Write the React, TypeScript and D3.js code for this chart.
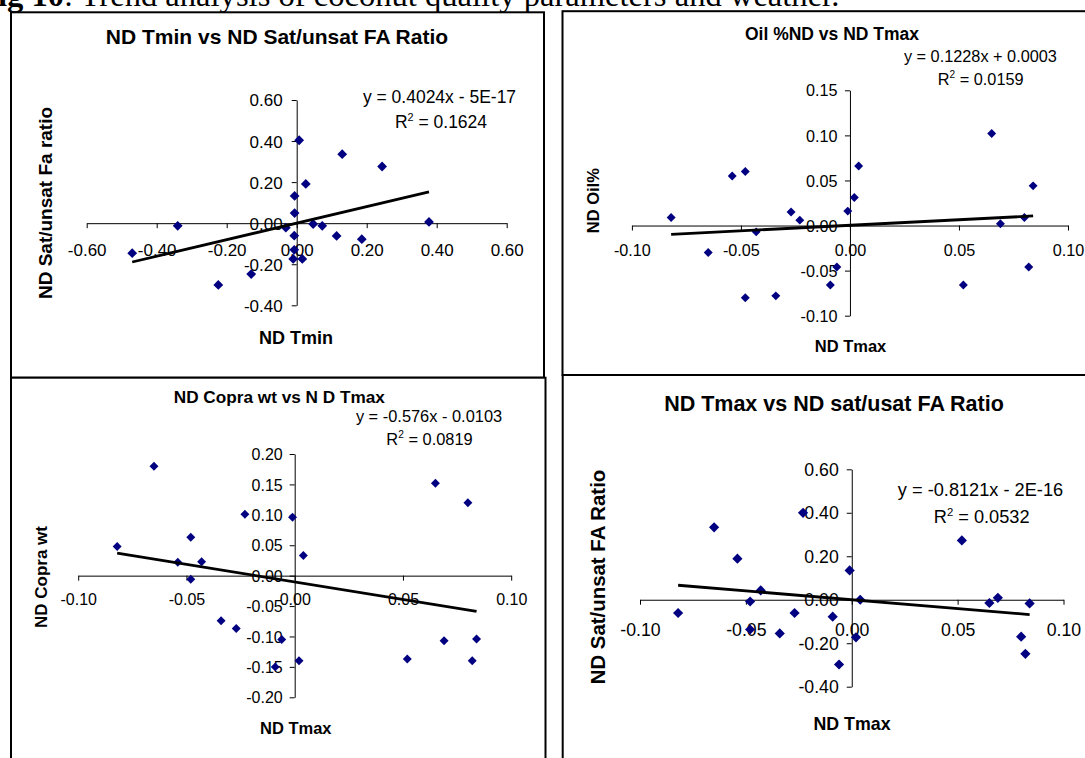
import { useEffect, useRef } from "react";
import * as d3 from "d3";

// panel 1: ND Tmin vs ND sat/unsat FA ratio
const ndTmin = [-0.47, -0.34, -0.224, -0.13, -0.031, -0.007, -0.006, -0.006, 0.007, 0.026, -0.007, -0.01, 0.016, 0.047, 0.073, 0.114, 0.13, 0.186, 0.244, 0.378];
const ndSatByTmin = [-0.146, -0.013, -0.301, -0.248, -0.022, -0.061, 0.049, 0.133, 0.404, 0.191, -0.13, -0.174, -0.174, -0.004, -0.013, -0.062, 0.336, -0.078, 0.276, 0.006];

// panels 2-4 share the same ND Tmax values
const ndTmax = [-0.082, -0.065, -0.054, -0.048, -0.048, -0.043, -0.034, -0.027, -0.023, -0.009, -0.006, -0.001, 0.002, 0.004, 0.052, 0.065, 0.069, 0.08, 0.082, 0.084];
const ndOil = [0.009, -0.03, 0.055, 0.06, -0.08, -0.007, -0.078, 0.015, 0.006, -0.066, -0.046, 0.016, 0.031, 0.066, -0.066, 0.102, 0.002, 0.009, -0.046, 0.044];
const ndCopra = [0.048, 0.18, 0.022, 0.063, -0.006, 0.023, -0.074, -0.087, 0.101, -0.15, -0.105, 0.096, -0.14, 0.033, -0.137, 0.152, -0.107, 0.12, -0.14, -0.104];
const ndSatByTmax = [-0.061, 0.333, 0.189, -0.008, -0.137, 0.043, -0.155, -0.061, 0.4, -0.078, -0.298, 0.135, -0.173, 0.0, 0.273, -0.015, 0.009, -0.17, -0.249, -0.017];

// linear trendlines (slope, intercept) and their labels
const trendSlopes = [0.4024, 0.1228, -0.576, -0.8121];
const trendIntercepts = [-5e-17, 0.0003, -0.0103, -2e-16];
const equations = ["y = 0.4024x - 5E-17", "y = 0.1228x + 0.0003", "y = -0.576x - 0.0103", "y = -0.8121x - 2E-16"];
const rSquared = ["0.1624", "0.0159", "0.0819", "0.0532"];

// tick values
const tminTicks = [-0.6, -0.4, -0.2, 0, 0.2, 0.4, 0.6];
const tmaxTicks = [-0.1, -0.05, 0, 0.05, 0.1];
const satTicks = [-0.4, -0.2, 0, 0.2, 0.4, 0.6];
const oilTicks = [-0.1, -0.05, 0, 0.05, 0.1, 0.15];
const copraTicks = [-0.2, -0.15, -0.1, -0.05, 0, 0.05, 0.1, 0.15, 0.2];

const FONT = "'Liberation Sans', Arial, sans-serif";
const fmt = d3.formatLocale({ decimal: ".", thousands: ",", grouping: [3], currency: ["", ""], minus: "-" }).format(".2f");

const panels = [
  {
    xs: ndTmin, ys: ndSatByTmin, k: 0,
    title: "ND Tmin vs ND Sat/unsat FA Ratio", titleSize: 21, titlePos: [277, 36.8],
    xLabel: "ND Tmin", xLabelSize: 18, xLabelPos: [296, 338],
    yLabel: "ND Sat/unsat Fa ratio", yLabelSize: 19, yLabelPos: [45.6, 203],
    eqSize: 17.5, eqPos: [439.5, 96.7], r2Pos: [441, 122],
    box: [11, 12.3, 533, 365.4],
    xDomain: [-0.6, 0.6], xRange: [86.7, 506.7], xTicks: tminTicks,
    yDomain: [-0.4, 0.6], yRange: [305.3, 100], yTicks: satTicks,
    tickFont: 17, xTickOffset: 26.7, yTickGap: 14, marker: 48,
  },
  {
    xs: ndTmax, ys: ndOil, k: 1,
    title: "Oil %ND vs ND Tmax", titleSize: 17.5, titlePos: [832, 34],
    xLabel: "ND Tmax", xLabelSize: 16.5, xLabelPos: [850.5, 346.7],
    yLabel: "ND Oil%", yLabelSize: 16.5, yLabelPos: [593.3, 200.7],
    eqSize: 16.3, eqPos: [980.4, 56.7], r2Pos: [980.7, 79],
    box: [562.5, 11.2, 540, 363.8],
    xDomain: [-0.1, 0.1], xRange: [631.9, 1068], xTicks: tmaxTicks,
    yDomain: [-0.1, 0.15], yRange: [315.7, 90.3], yTicks: oilTicks,
    tickFont: 16.2, xTickOffset: 25.2, yTickGap: 12.5, marker: 40,
  },
  {
    xs: ndTmax, ys: ndCopra, k: 2,
    title: "ND Copra wt vs N D Tmax", titleSize: 17.2, titlePos: [279.3, 396.7],
    xLabel: "ND Tmax", xLabelSize: 16.5, xLabelPos: [295.8, 728.3],
    yLabel: "ND Copra wt", yLabelSize: 17, yLabelPos: [40.7, 577],
    eqSize: 16.4, eqPos: [429, 416.7], r2Pos: [429.5, 439.3],
    box: [11, 377.7, 534.5, 400],
    xDomain: [-0.1, 0.1], xRange: [78.2, 511.2], xTicks: tmaxTicks,
    yDomain: [-0.2, 0.2], yRange: [697.3, 454], yTicks: copraTicks,
    tickFont: 16, xTickOffset: 24, yTickGap: 12, marker: 40,
  },
  {
    xs: ndTmax, ys: ndSatByTmax, k: 3,
    title: "ND Tmax vs ND sat/usat FA Ratio", titleSize: 21.5, titlePos: [834, 403.3],
    xLabel: "ND Tmax", xLabelSize: 17.8, xLabelPos: [852, 723.3],
    yLabel: "ND Sat/unsat FA Ratio", yLabelSize: 20.4, yLabelPos: [598, 577],
    eqSize: 18.2, eqPos: [980.5, 490], r2Pos: [981.7, 516.7],
    box: [562.7, 375, 540, 400],
    xDomain: [-0.1, 0.1], xRange: [640, 1063.5], xTicks: tmaxTicks,
    yDomain: [-0.4, 0.6], yRange: [686.7, 469.3], yTicks: satTicks,
    tickFont: 17.7, xTickOffset: 30, yTickGap: 13, marker: 52,
  },
];

function drawPanel(svg, p) {
  const g = svg.append("g");

  g.append("rect")
    .attr("x", p.box[0]).attr("y", p.box[1])
    .attr("width", p.box[2]).attr("height", p.box[3])
    .attr("fill", "#fff").attr("stroke", "#000").attr("stroke-width", 2);

  const x = d3.scaleLinear().domain(p.xDomain).range(p.xRange);
  const y = d3.scaleLinear().domain(p.yDomain).range(p.yRange);

  const xAxis = g.append("g")
    .attr("transform", `translate(0,${y(0)})`)
    .call(d3.axisBottom(x).tickValues(p.xTicks).tickSizeInner(5).tickSizeOuter(0).tickFormat(fmt));
  xAxis.attr("font-family", FONT).attr("font-size", p.tickFont);
  xAxis.selectAll(".tick text").attr("y", p.xTickOffset).attr("dy", "0.35em");

  const yAxis = g.append("g")
    .attr("transform", `translate(${x(0)},0)`)
    .call(d3.axisLeft(y).tickValues(p.yTicks).tickSizeInner(5).tickSizeOuter(0).tickFormat(fmt));
  yAxis.attr("font-family", FONT).attr("font-size", p.tickFont);
  yAxis.selectAll(".tick text").attr("x", -p.yTickGap).attr("dy", "0.35em");

  const pts = p.xs.map((v, i) => [v, p.ys[i]]);
  const diamond = d3.symbol().type(d3.symbolSquare).size(p.marker);
  g.selectAll("path.pt")
    .data(pts)
    .enter()
    .append("path")
    .attr("class", "pt")
    .attr("d", diamond)
    .attr("transform", d => `translate(${x(d[0])},${y(d[1])}) rotate(45)`)
    .attr("fill", "#000080");

  const slope = trendSlopes[p.k];
  const icpt = trendIntercepts[p.k];
  const ext = d3.extent(p.xs);
  g.append("path")
    .datum(ext)
    .attr("fill", "none")
    .attr("stroke", "#000")
    .attr("stroke-width", 2.8)
    .attr("d", d3.line().x(d => x(d)).y(d => y(slope * d + icpt)));

  const text = (pos, str, size, weight) =>
    g.append("text")
      .attr("x", pos[0]).attr("y", pos[1]).attr("dy", "0.35em")
      .attr("text-anchor", "middle")
      .attr("font-family", FONT).attr("font-size", size)
      .attr("font-weight", weight)
      .text(str);

  text(p.titlePos, p.title, p.titleSize, "bold");
  text(p.xLabelPos, p.xLabel, p.xLabelSize, "bold");
  text(p.eqPos, equations[p.k], p.eqSize, "normal");

  g.append("text")
    .attr("transform", `translate(${p.yLabelPos[0]},${p.yLabelPos[1]}) rotate(-90)`)
    .attr("dy", "0.35em")
    .attr("text-anchor", "middle")
    .attr("font-family", FONT).attr("font-size", p.yLabelSize)
    .attr("font-weight", "bold")
    .text(p.yLabel);

  const shift = p.eqSize * 0.4;
  const r2 = g.append("text")
    .attr("x", p.r2Pos[0]).attr("y", p.r2Pos[1] + p.eqSize * 0.35)
    .attr("text-anchor", "middle")
    .attr("font-family", FONT).attr("font-size", p.eqSize);
  r2.append("tspan").text("R");
  r2.append("tspan").attr("dy", -shift).attr("font-size", p.eqSize * 0.62).text("2");
  r2.append("tspan").attr("dy", shift).text(" = " + rSquared[p.k]);
}

export default function App() {
  const ref = useRef(null);

  useEffect(() => {
    const svg = d3.select(ref.current);
    svg.selectAll("*").remove();

    svg.append("rect").attr("width", 1085).attr("height", 758).attr("fill", "#fff");

    // caption, cut off at the top edge as in the source page
    const cap = svg.append("text")
      .attr("x", -22).attr("y", 6)
      .attr("font-family", "'Liberation Serif', 'Times New Roman', serif")
      .attr("font-size", 32.6);
    cap.append("tspan").attr("font-weight", "bold").text("Fig 10");
    cap.append("tspan").text(": Trend analysis of coconut quality parameters and weather.");

    panels.forEach(p => drawPanel(svg, p));
  }, []);

  return (
    <div style={{ position: "absolute", left: 0, top: 0 }}>
      <svg ref={ref} width={1085} height={758} style={{ display: "block" }} />
    </div>
  );
}
